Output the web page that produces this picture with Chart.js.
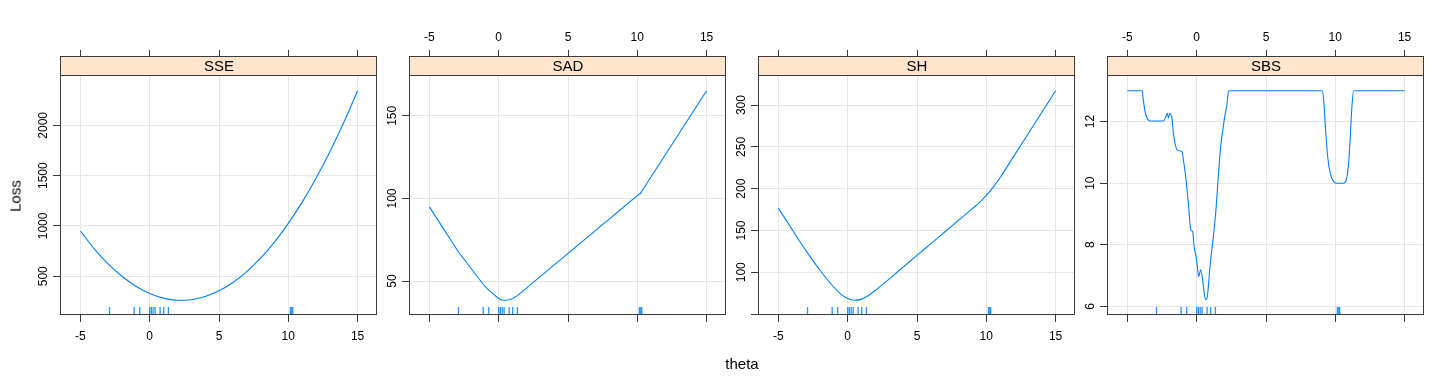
<!DOCTYPE html>
<html>
<head>
<meta charset="utf-8">
<script src="https://cdn.jsdelivr.net/npm/chart.js@4.4.1/dist/chart.umd.min.js"></script>
<style>
  body { margin: 0; background: #fff; width: 1440px; height: 384px; position: relative; overflow: hidden;
         font-family: "Liberation Sans", Arial, sans-serif; }
  canvas { position: absolute; top: 0; }
  .lab { position: absolute; font-size: 15px; line-height: 15px; color: #000; white-space: nowrap; font-weight: normal; }
  #xlab { left: 742px; top: 356px; transform: translateX(-50%); }
  #ylab { left: 15px; top: 196px; transform: translate(-50%, -50%) rotate(-90deg); }
</style>
</head>
<body>
<canvas id="c0"></canvas>
<canvas id="c1"></canvas>
<canvas id="c2"></canvas>
<canvas id="c3"></canvas>
<div class="lab" id="xlab">theta</div>
<div class="lab" id="ylab">Loss</div>
<script>
// values
const panelNames = ['SSE', 'SAD', 'SH', 'SBS'];
const thetaTicks = [-5, 0, 5, 10, 15];
const rugTheta = [-2.9, -1.12, -0.72, 0, 0.12, 0.25, 0.39, 0.75, 1.01, 1.35, 10.15, 10.25, 10.32];

const sseTheta = [-5, -4, -3, -2, -1, 0, 1, 2, 3, 4, 5, 6, 7, 8, 9, 10, 11, 12, 13, 14, 15];
const sseLoss = [950, 773, 623, 500, 401, 329, 283, 262, 267, 298, 355, 438, 546, 680, 840, 1026, 1237, 1475, 1738, 2027, 2344];

const sadTheta = [-5, -2.9, -1.12, -0.72, 0, 0.12, 0.25, 0.39, 0.75, 1.01, 1.35, 10.2, 10.25, 10.3, 15];
const sadLoss = [94.9, 67.6, 48.1, 44.5, 39.5, 38.9, 38.5, 38.4, 38.7, 39.5, 41.2, 103.1, 103.6, 104.1, 165.2];

const shTheta = [-5, -4, -3, -2, -1, -0.5, 0, 0.5, 1, 1.5, 2, 3, 4, 5, 6, 7, 8, 9, 9.5, 10, 10.5, 11, 12, 13, 14, 15];
const shLoss = [176.8, 150.8, 125.6, 102.4, 82.1, 73.9, 68.6, 66.5, 67.9, 72.3, 78.4, 92.2, 106.2, 120.2, 134.2, 148.2, 162.2, 176.2, 183.4, 191.9, 201.9, 213.4, 239.2, 265.2, 291.2, 317.2];

const sbsTheta = [-5, -3.94, -3.85, -3.75, -3.61, -3.37, -2.4, -2.21, -2.12, -2.04, -1.95, -1.78, -1.68, -1.54, -1.35, -1.06,
  -0.96, -0.77, -0.58, -0.43, -0.29, -0.19, -0.05, 0.05, 0.14, 0.29, 0.43, 0.58, 0.67, 0.77, 0.96, 1.2, 1.39, 1.54,
  1.73, 1.92, 2.02, 2.16, 2.31, 9.06, 9.16, 9.3, 9.45, 9.64, 9.88, 10.12, 10.6, 10.79, 10.96, 11.08, 11.2, 11.32, 15];
const sbsLoss = [13, 13, 12.7, 12.38, 12.14, 12.02, 12.02, 12.18, 12.27, 12.11, 12.27, 12.08, 11.62, 11.24, 11.06, 11.02,
  10.76, 10.11, 9.24, 8.49, 8.43, 7.95, 7.62, 7.3, 6.97, 7.19, 6.86, 6.32, 6.22, 6.32, 7.3, 8.27, 9.14, 10.11,
  11.19, 11.84, 12.16, 12.49, 13, 13, 12.7, 11.73, 10.86, 10.32, 10.05, 10.0, 10.0, 10.1, 10.64, 11.51, 12.49, 13, 13];

const sseTicks = [500, 1000, 1500, 2000];
const sadTicks = [50, 100, 150];
const shTicks = [50, 100, 150, 200, 250, 300];
const shTickLabels = ['', '100', '150', '200', '250', '300'];
const sbsTicks = [6, 8, 10, 12];

const sseRange = [115, 2490];
const sadRange = [29.5, 174.1];
const shRange = [48.9, 334.8];
const sbsRange = [5.72, 13.48];
const thetaRange = [-6.4, 16.4];

// layout
const PAGE_H = 384, PLOT_TOP = 76, PLOT_BOTTOM = 315, STRIP_H = 19;
const PANEL_W = 316, AXIS_W = 48, PAD_R = 4;
const panelLeft = [61, 410, 759, 1108];
const lineCol = '#0080ff', gridCol = '#e6e6e6', axisCol = '#3a3a3a', stripCol = '#ffe5cc';

Chart.defaults.font.family = '"Liberation Sans", Arial, sans-serif';
Chart.defaults.font.size = 12;
Chart.defaults.color = '#000';

const panelPlugin = {
  id: 'panel',
  beforeDatasetsDraw(chart) {
    const { ctx, chartArea: a } = chart;
    ctx.save();
    ctx.fillStyle = stripCol;
    ctx.fillRect(a.left, a.top, a.right - a.left, STRIP_H);
    ctx.restore();
  },
  afterDatasetsDraw(chart) {
    const { ctx, chartArea: a } = chart;
    const xs = chart.scales.x;
    ctx.save();
    ctx.strokeStyle = 'rgba(0,128,255,0.85)';
    ctx.lineWidth = 1.3;
    rugTheta.forEach(v => {
      const px = xs.getPixelForValue(v);
      ctx.beginPath();
      ctx.moveTo(px, a.bottom - 8);
      ctx.lineTo(px, a.bottom);
      ctx.stroke();
    });
    ctx.restore();
  },
  afterDraw(chart) {
    const { ctx, chartArea: a } = chart;
    const o = chart.options.plugins.panel;
    ctx.save();
    ctx.strokeStyle = axisCol;
    ctx.lineWidth = 1;
    ctx.strokeRect(a.left - 0.5, a.top - 0.5, a.right - a.left, a.bottom - a.top);
    ctx.beginPath();
    ctx.moveTo(a.left, a.top + STRIP_H - 0.5);
    ctx.lineTo(a.right, a.top + STRIP_H - 0.5);
    ctx.stroke();
    // strip text
    ctx.fillStyle = '#000';
    ctx.font = '15px "Liberation Sans", Arial, sans-serif';
    ctx.textAlign = 'center';
    ctx.textBaseline = 'middle';
    ctx.fillText(o.name, (a.left + a.right) / 2, a.top + STRIP_H / 2 + 0.5);
    // rotated y tick labels
    const ys = chart.scales.y;
    ctx.font = '12px "Liberation Sans", Arial, sans-serif';
    ctx.textBaseline = 'alphabetic';
    o.yTicks.forEach((v, k) => {
      ctx.save();
      ctx.translate(a.left - 14, ys.getPixelForValue(v));
      ctx.rotate(-Math.PI / 2);
      ctx.fillText(o.yLabels[k], 0, 0);
      ctx.restore();
    });
    ctx.restore();
  }
};

function makePanel(i, theta, loss, yTicks, yLabels, yRange, labelsOnTop, smooth) {
  const canvas = document.getElementById('c' + i);
  canvas.width = AXIS_W + PANEL_W + PAD_R;
  canvas.height = PAGE_H;
  canvas.style.left = (panelLeft[i] - AXIS_W) + 'px';

  const span = yRange[1] - yRange[0];
  const yMax = yRange[1] + span * STRIP_H / (PLOT_BOTTOM - PLOT_TOP);

  const xAxis = (pos, showLabels) => ({
    type: 'linear',
    position: pos,
    min: thetaRange[0],
    max: thetaRange[1],
    afterBuildTicks: s => { s.ticks = thetaTicks.map(v => ({ value: v })); },
    afterFit: s => { s.height = pos === 'top' ? PLOT_TOP - STRIP_H : PAGE_H - PLOT_BOTTOM; },
    grid: { color: gridCol, tickColor: axisCol, tickLength: 7, drawOnChartArea: pos === 'bottom' },
    border: { display: false },
    ticks: { display: showLabels, autoSkip: false, maxRotation: 0, padding: pos === 'top' ? 5 : 7.5 }
  });

  new Chart(canvas, {
    type: 'line',
    data: {
      datasets: [{
        data: theta.map((t, k) => ({ x: t, y: loss[k] })),
        borderColor: lineCol,
        borderWidth: 1.1,
        pointRadius: 0,
        fill: false,
        tension: smooth ? 0.4 : 0,
        cubicInterpolationMode: smooth ? 'monotone' : 'default',
        xAxisID: 'x',
        yAxisID: 'y'
      }]
    },
    options: {
      responsive: false,
      animation: false,
      devicePixelRatio: 1,
      layout: { padding: { left: 0, right: PAD_R, top: 0, bottom: 0 } },
      plugins: {
        legend: { display: false },
        tooltip: { enabled: false },
        panel: { name: panelNames[i], yTicks: yTicks, yLabels: yLabels }
      },
      scales: {
        x: xAxis('bottom', !labelsOnTop),
        x2: xAxis('top', labelsOnTop),
        y: {
          type: 'linear',
          position: 'left',
          min: yRange[0],
          max: yMax,
          afterBuildTicks: s => { s.ticks = yTicks.map(v => ({ value: v })); },
          afterFit: s => { s.width = AXIS_W; },
          grid: { color: gridCol, tickColor: axisCol, tickLength: 8 },
          border: { display: false },
          ticks: { display: false }
        }
      }
    },
    plugins: [panelPlugin]
  });
}

makePanel(0, sseTheta, sseLoss, sseTicks, sseTicks.map(String), sseRange, false, true);
makePanel(1, sadTheta, sadLoss, sadTicks, sadTicks.map(String), sadRange, true, false);
makePanel(2, shTheta, shLoss, shTicks, shTickLabels, shRange, false, true);
makePanel(3, sbsTheta, sbsLoss, sbsTicks, sbsTicks.map(String), sbsRange, true, true);
</script>
</body>
</html>
